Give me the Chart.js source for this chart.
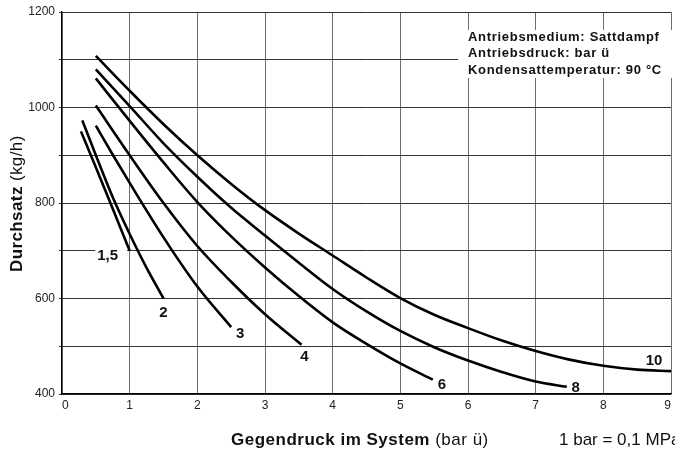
<!DOCTYPE html>
<html>
<head>
<meta charset="utf-8">
<script src="https://cdn.jsdelivr.net/npm/chart.js@4.4.1/dist/chart.umd.min.js"></script>
<style>
    html, body { margin: 0; padding: 0; background: #fff; }
    canvas { display: block; }
</style>
</head>
<body>
<canvas id="graficoDurchsatz" width="675" height="453"></canvas>
<script>
// Gegendruck (bar ü) und Durchsatz (kg/h) je Antriebsdruck
const druck15 = [0.28, 0.5, 0.75, 1.0];
const durchsatz15 = [950, 875, 788, 700];

const druck2 = [0.3, 0.5, 0.75, 1.0, 1.25, 1.5];
const durchsatz2 = [973, 900, 812, 735, 664, 600];

const druck3 = [0.5, 0.75, 1.0, 1.5, 2.0, 2.5];
const durchsatz3 = [962, 901, 842, 728, 625, 540];

const druck4 = [0.5, 1.0, 1.5, 2.0, 2.5, 3.0, 3.54];
const durchsatz4 = [1004, 900, 800, 710, 635, 567, 503];

const druck6 = [0.5, 1, 1.5, 2, 2.5, 3, 3.5, 4, 4.5, 5, 5.48];
const durchsatz6 = [1061, 972, 885, 802, 730, 665, 605, 550, 505, 464, 430];

const druck8 = [0.5, 1, 1.5, 2, 2.5, 3, 3.5, 4, 4.5, 5, 5.5, 6, 6.5, 7, 7.46];
const durchsatz8 = [1080, 1003, 925, 855, 790, 732, 675, 620, 573, 532, 498, 470, 446, 426, 415];

const druck10 = [0.5, 1, 1.5, 2, 2.5, 3, 3.5, 4, 4.5, 5, 5.5, 6, 6.5, 7, 7.5, 8, 8.5, 9];
const durchsatz10 = [1108, 1035, 965, 900, 840, 785, 736, 690, 644, 601, 566, 538, 512, 490, 472, 459, 451, 448];

const kurvenNamen = ['1,5', '2', '3', '4', '6', '8', '10'];
const xTickLabels = ['0', '1', '2', '3', '4', '5', '6', '7', '8', '9'];
const yTickLabels = [400, 600, 800, 1000, 1200];
const infoZeilen = ['Antriebsmedium: Sattdampf', 'Antriebsdruck: bar ü', 'Kondensattemperatur: 90 °C'];

const kurven = [
    [druck15, durchsatz15], [druck2, durchsatz2], [druck3, durchsatz3], [druck4, durchsatz4],
    [druck6, durchsatz6], [druck8, durchsatz8], [druck10, durchsatz10]
];

// Lage der Kurvennamen relativ zum Kurvenende (px)
const namenVersatz = [[-22, 4], [0, 13], [9, 6], [3, 11], [9, 4], [9, 0], [-17, -11]];
const namenHintergrund = [true, false, false, false, false, false, false];

const schrift = '"Liberation Sans", Arial, Helvetica, sans-serif';

const beschriftung = {
    id: 'beschriftung',
    afterDatasetsDraw(chart) {
        const { ctx } = chart;
        const sx = chart.scales.x;
        const sy = chart.scales.y;
        ctx.save();

        // Infokasten oben rechts
        ctx.fillStyle = '#fff';
        ctx.fillRect(458, 30, 214, 48);
        ctx.fillStyle = '#111';
        ctx.font = 'bold 13px ' + schrift;
        ctx.letterSpacing = '0.7px';
        ctx.textAlign = 'left';
        ctx.textBaseline = 'alphabetic';
        infoZeilen.forEach((zeile, i) => ctx.fillText(zeile, 468, 40.5 + i * 16.5));

        // Kurvennamen am Ende jeder Kurve
        ctx.letterSpacing = '0px';
        ctx.font = 'bold 15px ' + schrift;
        ctx.textAlign = 'center';
        ctx.textBaseline = 'middle';
        kurven.forEach((k, i) => {
            const n = k[0].length - 1;
            const px = sx.getPixelForValue(k[0][n]) + namenVersatz[i][0];
            const py = sy.getPixelForValue(k[1][n]) + namenVersatz[i][1];
            if (namenHintergrund[i]) {
                const w = ctx.measureText(kurvenNamen[i]).width;
                ctx.fillStyle = '#fff';
                ctx.fillRect(px - w / 2 - 2, py - 7, w + 11, 14);
            }
            ctx.fillStyle = '#111';
            ctx.fillText(kurvenNamen[i], px, py + 1);
        });
        ctx.restore();
    },
    afterDraw(chart) {
        const { ctx } = chart;
        ctx.save();
        ctx.fillStyle = '#111';
        ctx.textBaseline = 'alphabetic';
        ctx.textAlign = 'left';

        // x-Achsentitel
        ctx.letterSpacing = '0.5px';
        ctx.font = 'bold 17px ' + schrift;
        ctx.fillText('Gegendruck im System', 231, 445);
        let w = ctx.measureText('Gegendruck im System').width;
        ctx.font = '17px ' + schrift;
        ctx.fillText(' (bar ü)', 231 + w, 445);
        ctx.letterSpacing = '0px';
        ctx.fillText('1 bar = 0,1 MPa', 559, 445);

        // y-Achsentitel
        ctx.letterSpacing = '0.4px';
        ctx.translate(22, 272);
        ctx.rotate(-Math.PI / 2);
        ctx.font = 'bold 17px ' + schrift;
        ctx.fillText('Durchsatz', 0, 0);
        w = ctx.measureText('Durchsatz').width;
        ctx.font = '17px ' + schrift;
        ctx.fillText(' (kg/h)', w, 0);
        ctx.restore();
    }
};

document.addEventListener("DOMContentLoaded", () => {
    const grafico = document.querySelector("#graficoDurchsatz");

    const datasets = kurven.map((k, i) => ({
        label: kurvenNamen[i],
        data: k[0].map((x, j) => ({ x: x, y: k[1][j] })),
        showLine: true,
        borderColor: '#000',
        borderWidth: 2.6,
        pointRadius: 0,
        cubicInterpolationMode: 'monotone',
        fill: false
    }));

    new Chart(grafico, {
        type: 'scatter',
        data: { datasets: datasets },
        options: {
            responsive: false,
            animation: false,
            devicePixelRatio: 1,
            layout: { padding: { top: 12, right: 3, left: 0, bottom: 0 } },
            plugins: {
                legend: { display: false },
                tooltip: { enabled: false }
            },
            scales: {
                x: {
                    type: 'linear',
                    min: 0,
                    max: 9,
                    afterFit: (scale) => { scale.height = 59; },
                    ticks: {
                        stepSize: 1,
                        padding: 4,
                        align: 'inner',
                        color: '#222',
                        font: { size: 12, family: schrift },
                        maxRotation: 0,
                        callback: (v, i) => xTickLabels[i]
                    },
                    grid: { color: '#6e6e6e', lineWidth: 1, drawTicks: false },
                    border: { color: '#000', width: 1.2 }
                },
                y: {
                    type: 'linear',
                    min: 400,
                    max: 1200,
                    afterFit: (scale) => { scale.width = 62; },
                    ticks: {
                        stepSize: 100,
                        padding: 4,
                        color: '#222',
                        font: { size: 12, family: schrift },
                        callback: (v) => yTickLabels.includes(v) ? String(v) : ''
                    },
                    grid: { color: '#333', lineWidth: 1, tickLength: 3 },
                    border: { color: '#000', width: 1.2 }
                }
            }
        },
        plugins: [beschriftung]
    });
});
</script>
</body>
</html>
